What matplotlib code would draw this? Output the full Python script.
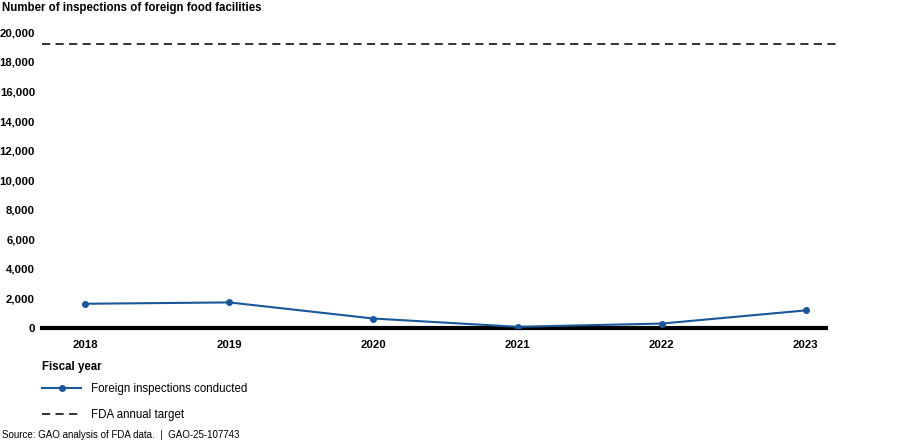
import matplotlib.pyplot as plt
from matplotlib.lines import Line2D

plt.rcParams['font.family'] = ['Liberation Sans', 'DejaVu Sans']

years = [2018, 2019, 2020, 2021, 2022, 2023]
inspections = [1640, 1730, 640, 80, 300, 1190]
fda_target = 19200
y_ticks = list(range(0, 20001, 2000))

blue = '#1a5799'

fig = plt.figure(figsize=(9, 4.43), dpi=100)
ax = fig.add_axes([0.0467, 0.2596, 0.8823, 0.6674])

ax.axhline(fda_target, color='#222222', lw=1.3, linestyle=(0, (4.5, 3)))
ax.axhline(0, xmin=0, xmax=0.987, color='black', lw=3, clip_on=False, zorder=2)
ax.plot(years, inspections, color=blue, lw=1.5, marker='o', markersize=4, zorder=3)

ax.set_xlim(2017.70, 2023.21)
ax.set_ylim(0, 20000)
ax.set_xticks(years)
ax.set_xticklabels([str(y) for y in years], fontsize=8.2, fontweight='bold')
ax.set_yticks(y_ticks)
ax.set_yticklabels([f'{v:,}' for v in y_ticks], fontsize=8.2, fontweight='bold')
ax.tick_params(axis='both', length=0)
ax.tick_params(axis='y', pad=5)
ax.tick_params(axis='x', pad=9)
for s in ax.spines.values():
    s.set_visible(False)

fig.text(0.002, 0.982, 'Number of inspections of foreign food facilities',
         fontsize=8.3, fontweight='bold', ha='left', va='center')
fig.text(0.0467, 0.172, 'Fiscal year', fontsize=8.3, fontweight='bold',
         ha='left', va='center')

handles = [Line2D([], [], color=blue, lw=1.5, marker='o', markersize=4),
           Line2D([], [], color='#222222', lw=1.3, linestyle=(0, (4.5, 3)))]
fig.legend(handles, ['Foreign inspections conducted', 'FDA annual target'],
           loc='upper left', bbox_to_anchor=(0.047, 0.135), frameon=False,
           fontsize=8.3, handlelength=3.4, handletextpad=0.8, labelspacing=1.17,
           borderpad=0, borderaxespad=0)

fig.text(0.002, 0.018, 'Source: GAO analysis of FDA data.  |  GAO-25-107743',
         fontsize=7.0, ha='left', va='center')

fig.savefig('out.png', dpi=100)
